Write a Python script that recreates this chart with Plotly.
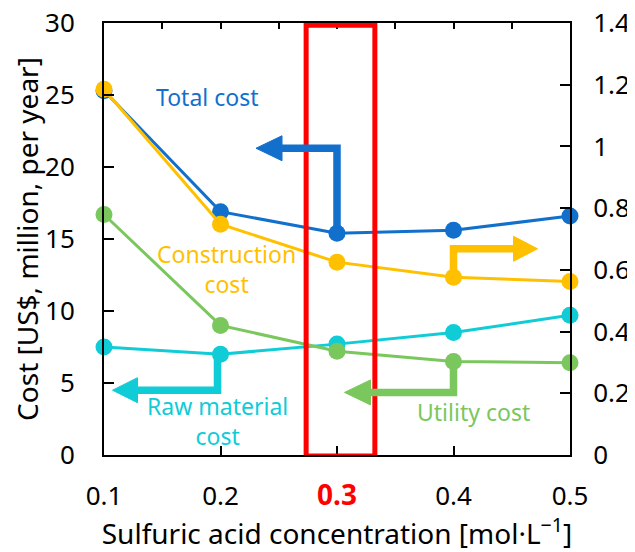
import plotly.graph_objects as go

# ---- data ----
concentration = [0.1, 0.2, 0.3, 0.4, 0.5]
total_cost = [25.3, 16.9, 15.4, 15.6, 16.6]          # left axis
construction_cost = [1.185, 0.748, 0.625, 0.576, 0.562]  # right axis
utility_cost = [16.7, 9.0, 7.2, 6.5, 6.4]             # left axis
raw_material_cost = [7.5, 7.0, 7.7, 8.5, 9.7]         # left axis

x_tick_vals = [0.1, 0.2, 0.3, 0.4, 0.5]
x_tick_text = ["0.1", "0.2", "<b><span style='color:#FF0000;font-size:28px'>0.3</span></b>", "0.4", "0.5"]
top_tick_vals = [0.1, 0.15, 0.2, 0.25, 0.3, 0.35, 0.4, 0.45, 0.5]
highlight = 0.3

BLUE = "#1270CC"
ORANGE = "#FFC000"
GREEN = "#7AC75E"
CYAN = "#10CCD6"
RED = "#FF0000"
FONT = "Noto Sans"

fig = go.Figure()

def series(y, color, yaxis="y"):
    fig.add_trace(go.Scatter(
        x=concentration, y=y, mode="lines+markers", yaxis=yaxis,
        line=dict(color=color, width=3),
        marker=dict(color=color, size=17),
        cliponaxis=False, showlegend=False, hoverinfo="skip"))

series(raw_material_cost, CYAN)
series(utility_cost, GREEN)
series(total_cost, BLUE)
series(construction_cost, ORANGE, "y2")
# invisible trace for the top axis
fig.add_trace(go.Scatter(x=concentration, y=total_cost, xaxis="x2", mode="none",
                         showlegend=False, hoverinfo="skip"))

shapes = []
# highlight box around 0.3
shapes.append(dict(type="rect", xref="x", yref="y", x0=highlight - 0.0265, x1=highlight + 0.0325,
                   y0=-0.07, y1=29.85, line=dict(color=RED, width=5), layer="above"))

def arrow(xa, ya, yref, pts, tip, color, lw=7.5, hw=12.5):
    # pts: polyline offsets in pixels, relative to (xa, ya); last point is head base
    d = "M" + " L".join(f"{px},{py}" for px, py in pts)
    shapes.append(dict(type="path", xref="x", yref=yref, xsizemode="pixel", ysizemode="pixel",
                       xanchor=xa, yanchor=ya, path=d, line=dict(color=color, width=lw),
                       layer="above"))
    bx, by = pts[-1]
    tx, ty = tip
    head = f"M{bx},{by - hw} L{tx},{ty} L{bx},{by + hw} Z"
    shapes.append(dict(type="path", xref="x", yref=yref, xsizemode="pixel", ysizemode="pixel",
                       xanchor=xa, yanchor=ya, path=head, fillcolor=color,
                       line=dict(color=color, width=1), layer="above"))

arrow(0.3, total_cost[2], "y", [(0, 0), (0, 85), (-55, 85)], (-81, 85), BLUE)
arrow(0.4, construction_cost[3], "y2", [(0, 0), (0, 28.5), (60, 28.5)], (84, 28.5), ORANGE)
arrow(0.4, utility_cost[3], "y", [(0, 0), (0, -31), (-83, -31)], (-109, -31), GREEN)
arrow(0.2, raw_material_cost[1], "y", [(-3, 0), (-3, -36), (-83, -36)], (-108, -36), CYAN)

annotations = [
    dict(x=0.1887, y=24.86, text="Total cost", font=dict(color=BLUE, size=23)),
    dict(x=0.205, y=12.95, text="Construction<br>cost", font=dict(color=ORANGE, size=23)),
    dict(x=0.1973, y=2.36, text="Raw material<br>cost", font=dict(color=CYAN, size=23)),
    dict(x=0.4168, y=2.99, text="Utility cost", font=dict(color=GREEN, size=23)),
]
for a in annotations:
    a.update(xref="x", yref="y", showarrow=False, xanchor="center", yanchor="middle")

axis_common = dict(showline=True, linecolor="black", linewidth=2, ticks="inside",
                   tickcolor="black", tickwidth=2, showgrid=False, zeroline=False,
                   automargin=False, ticklabeloverflow="allow",
                   tickfont=dict(size=26, color="black"))

fig.update_layout(
    width=627, height=544,
    margin=dict(l=96, r=65, t=15, b=97),
    plot_bgcolor="white", paper_bgcolor="white",
    font=dict(family=FONT, color="black"),
    shapes=shapes, annotations=annotations,
    xaxis=dict(range=[0.1, 0.5], tickvals=x_tick_vals, ticktext=x_tick_text, ticklen=9,
               ticklabelstandoff=17,
               title=dict(text="Sulfuric acid concentration [mol·L<sup>−1</sup>]",
                          font=dict(size=28), standoff=12),
               **axis_common),
    xaxis2=dict(range=[0.1, 0.5], overlaying="x", side="top", tickvals=top_tick_vals,
                ticklen=6, showticklabels=False, anchor="y", **axis_common),
    yaxis=dict(range=[0, 30], dtick=5, ticklen=10, ticklabelstandoff=22,
               title=dict(text="Cost [US$, million, per year]", font=dict(size=28), standoff=9),
               **axis_common),
    yaxis2=dict(range=[0, 1.4], dtick=0.2, ticklen=10, overlaying="y", side="right",
                ticklabelstandoff=16, anchor="x", **axis_common),
)

fig.write_html("out.html")
